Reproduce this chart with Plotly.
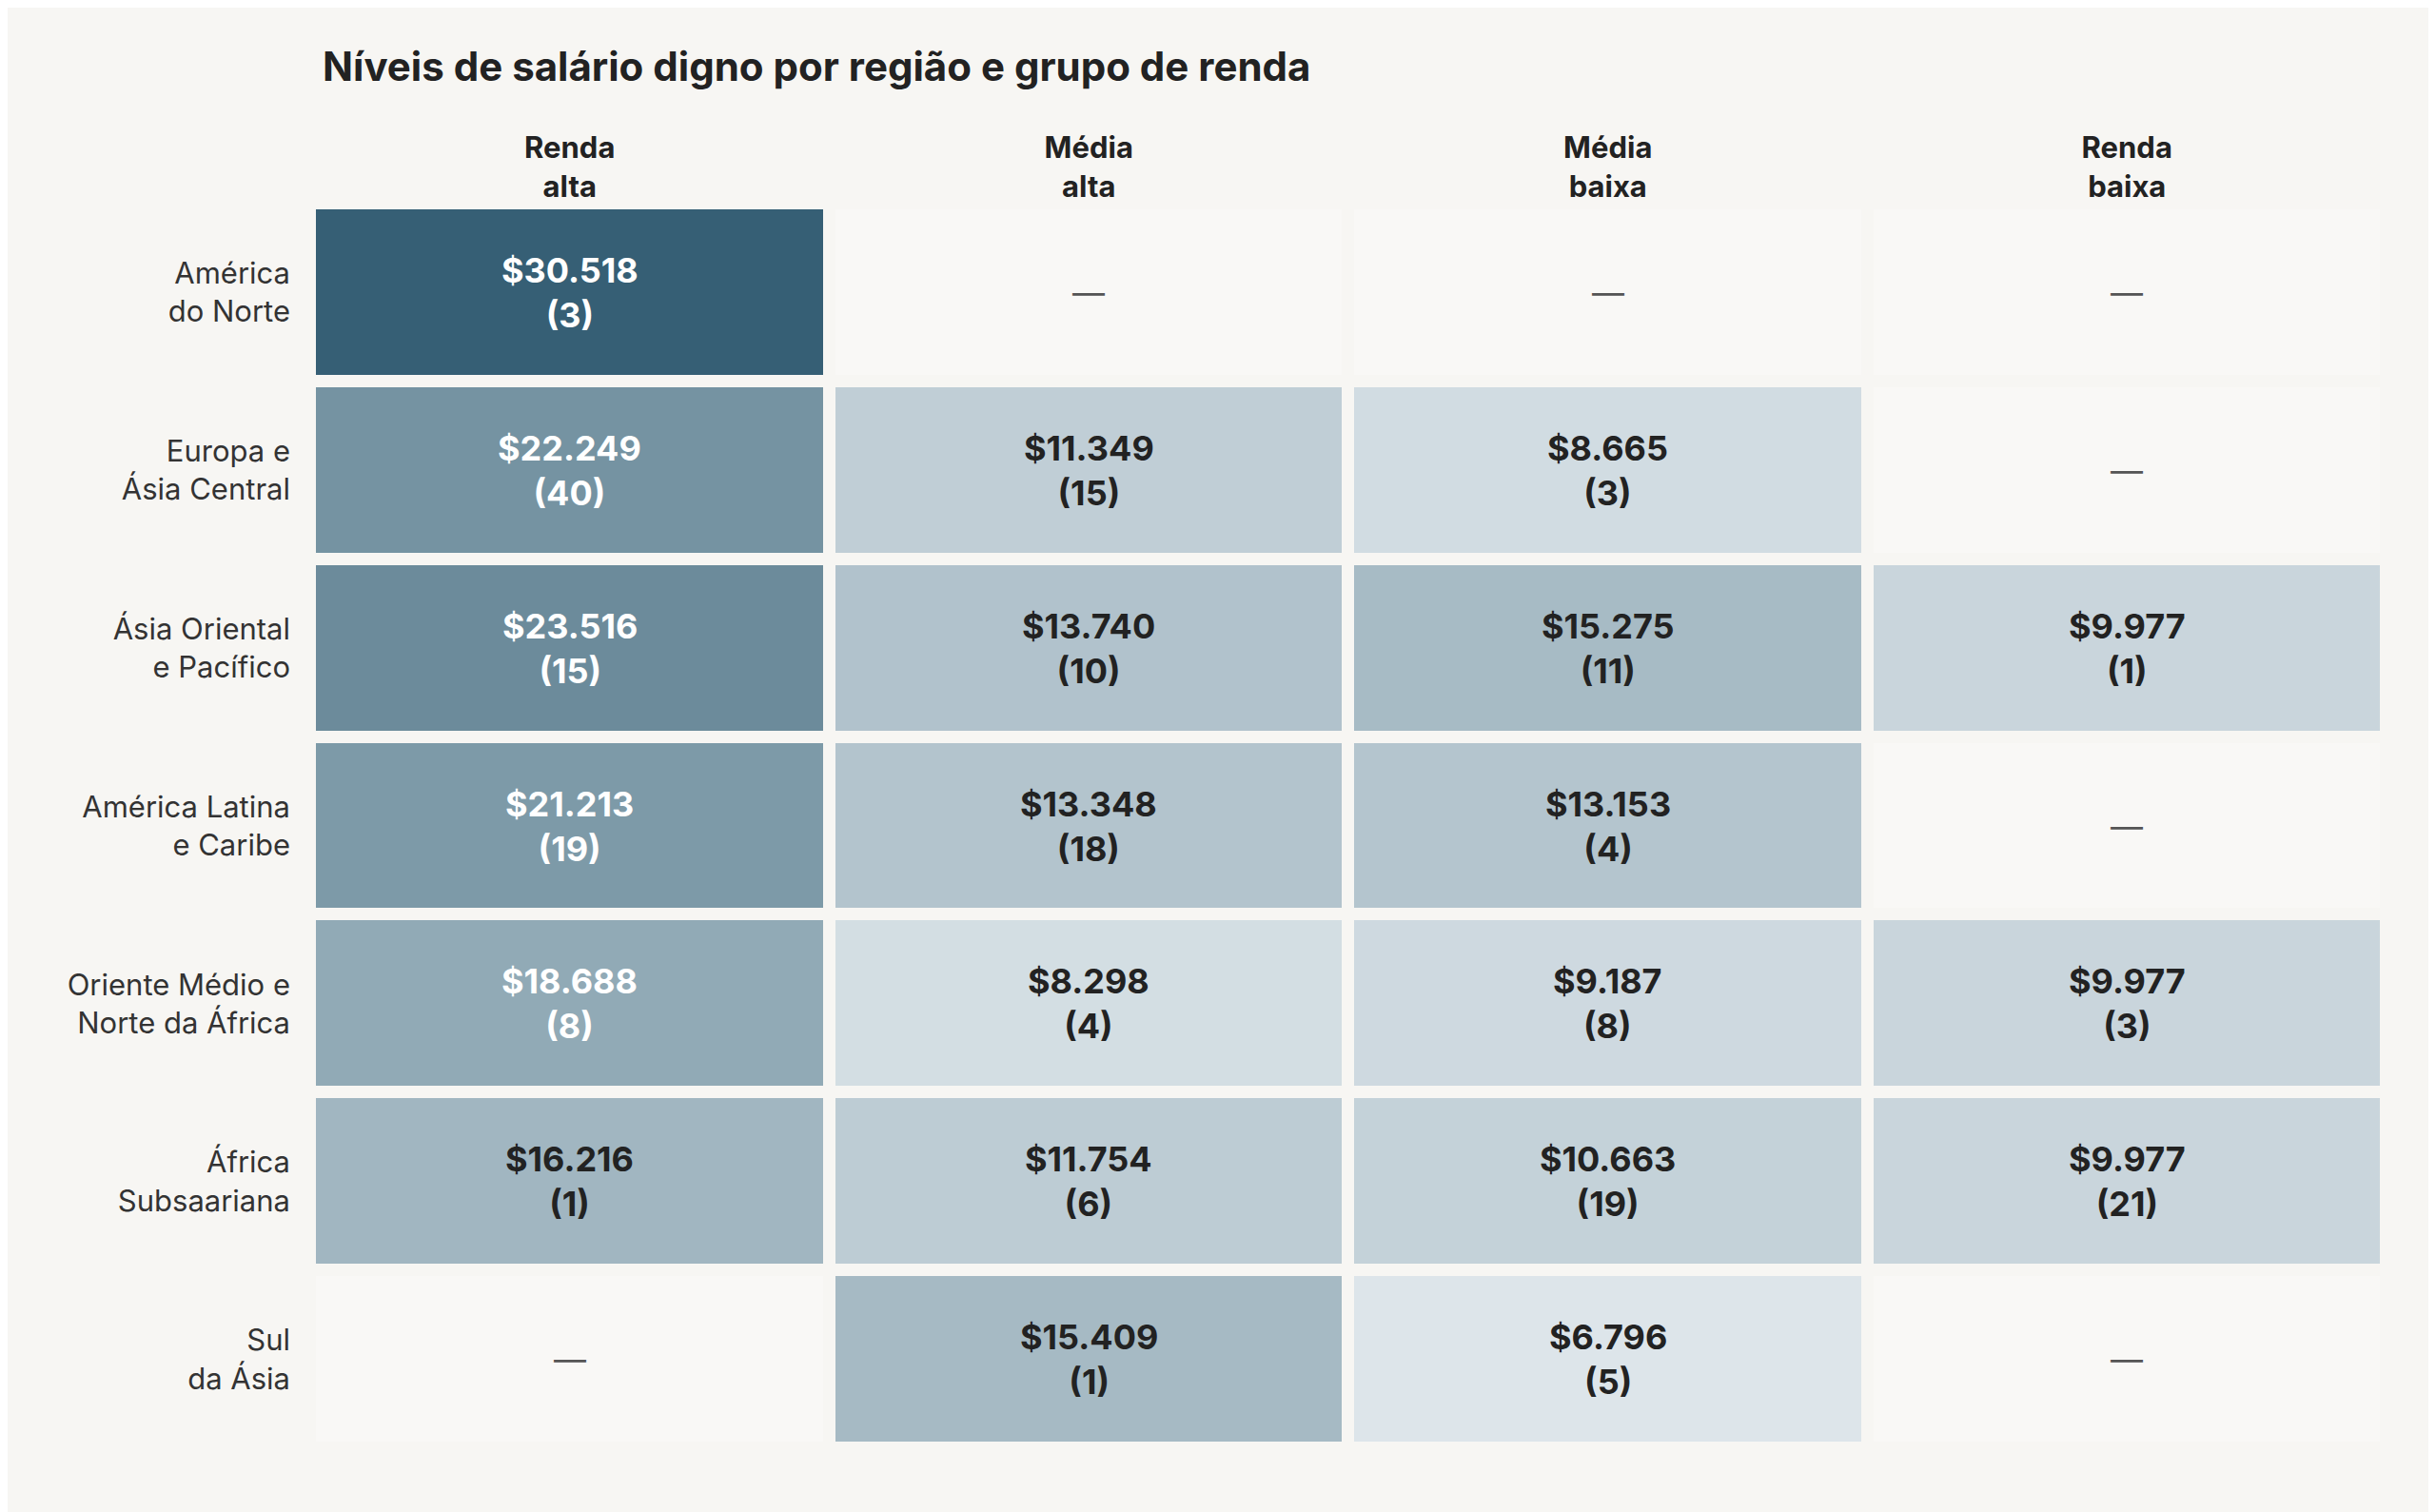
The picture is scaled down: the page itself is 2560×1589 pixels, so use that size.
import plotly.graph_objects as go

# data
groups = ["Renda<br>alta", "Média<br>alta", "Média<br>baixa", "Renda<br>baixa"]
regions = ["América<br>do Norte", "Europa e<br>Ásia Central", "Ásia Oriental<br>e Pacífico",
           "América Latina<br>e Caribe", "Oriente Médio e<br>Norte da África",
           "África<br>Subsaariana", "Sul<br>da Ásia"]
wages = [
    [30518, None, None, None],
    [22249, 11349, 8665, None],
    [23516, 13740, 15275, 9977],
    [21213, 13348, 13153, None],
    [18688, 8298, 9187, 9977],
    [16216, 11754, 10663, 9977],
    [None, 15409, 6796, None],
]
counts = [
    [3, None, None, None],
    [40, 15, 3, None],
    [15, 10, 11, 1],
    [19, 18, 4, None],
    [8, 4, 8, 3],
    [1, 6, 19, 21],
    [None, 1, 5, None],
]

BG = "#f7f6f3"
EMPTY = "#f9f8f6"
FONT = "Inter"

fig = go.Figure()

# empty cells layer
empty_z = [[1 if v is None else None for v in row] for row in wages]
fig.add_trace(go.Heatmap(x=groups, y=regions, z=empty_z, xgap=13, ygap=13,
                         colorscale=[[0, EMPTY], [1, EMPTY]], showscale=False, hoverinfo="skip"))

fig.add_trace(go.Heatmap(x=groups, y=regions, z=wages, xgap=13, ygap=13,
                         zmin=6796, zmax=30518,
                         colorscale=[[0, "#dde5ea"], [0.5, "#91aab6"], [1, "#365f75"]],
                         showscale=False))

annotations = []
for i, region in enumerate(regions):
    for j, grp in enumerate(groups):
        v = wages[i][j]
        if v is None:
            txt, col, size = "—", "#555555", 34
        else:
            txt = "${:,}".format(v).replace(",", ".") + "<br>({})".format(counts[i][j])
            col = "#ffffff" if v >= 18000 else "#222222"
            size = 36
        annotations.append(dict(x=grp, y=region, text="<b>" + txt + "</b>" if v else txt,
                                showarrow=False, font=dict(family=FONT, size=size, color=col)))

fig.update_layout(
    width=2560, height=1589,
    paper_bgcolor=BG, plot_bgcolor=BG,
    margin=dict(l=318, r=60, t=206, b=75),
    title=dict(text="<b>Níveis de salário digno por região e grupo de renda</b>",
               x=331 / 2560, xanchor="left", y=1 - 62 / 1589, yanchor="middle",
               font=dict(family=FONT, size=42, color="#222222")),
    xaxis=dict(side="top", showgrid=False, zeroline=False, showline=False,
               tickfont=dict(family=FONT, size=31, color="#222222"),
               ticktext=["<b>" + g + "</b>" for g in groups], tickvals=groups, ticks=""),
    yaxis=dict(autorange="reversed", showgrid=False, zeroline=False, showline=False,
               tickfont=dict(family=FONT, size=31, color="#333333"), ticks="", ticklen=0,
               ticklabelstandoff=20),
    annotations=annotations,
    font=dict(family=FONT),
)

fig.write_html("out.html")
